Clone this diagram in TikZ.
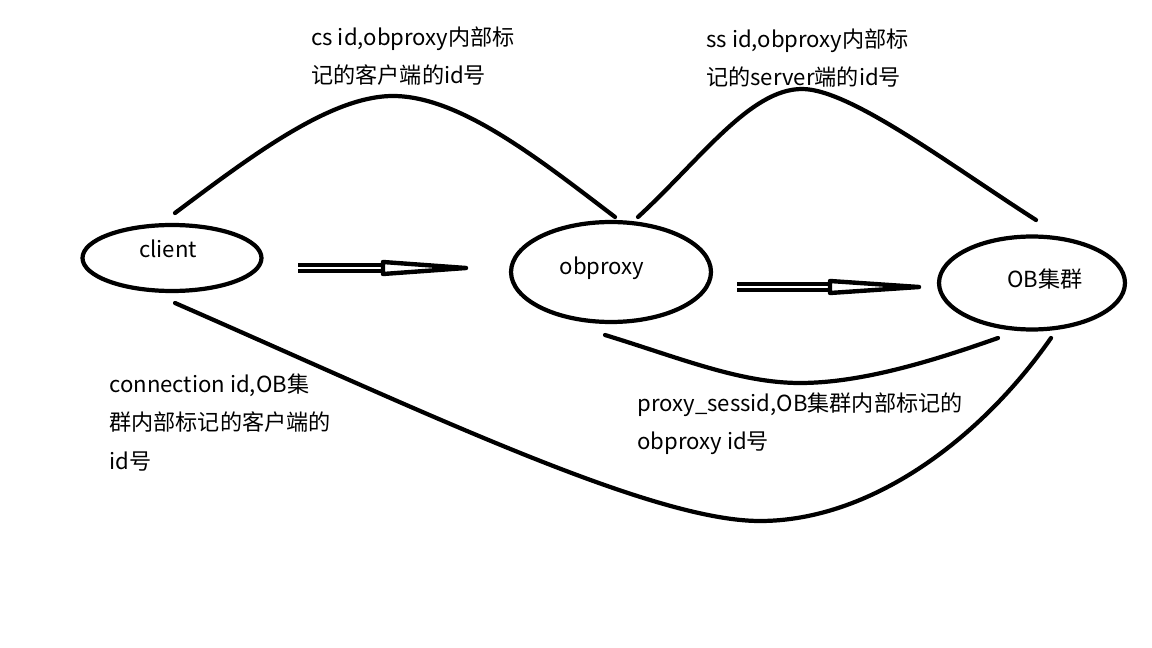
\documentclass[tikz,border=0pt]{standalone}
\usepackage{fontspec}
\setmainfont{Noto Sans CJK SC}
\usetikzlibrary{shapes.geometric,calc}

\begin{document}
\begin{tikzpicture}[x=0.02cm, y=-0.02cm,
		every node/.style={font=\fontsize{12.6pt}{22.1pt}\selectfont},
		endpoint/.style={ellipse, draw, line width=2.4pt, inner sep=0pt},
		note/.style={align=left, anchor=north west, inner sep=0pt},
		link/.style={line width=2.4pt, line cap=round},
		shaft/.style={line width=2.5pt, double=white, double distance=0.8pt},
		head/.style={line width=2.5pt, fill=white, line join=round}]
		\useasboundingbox (0,0) rectangle (1152,648);
		% the three ends
		\node[endpoint, minimum width=3.58cm, minimum height=1.32cm] (client) at (172,258){};
		\node[endpoint, minimum width=4cm, minimum height=2cm] (obproxy) at (611,272){};
		\node[endpoint, minimum width=3.72cm, minimum height=1.86cm] (cluster) at (1032,283){};
		\node (client-txt) at (168,249){client};
		\node (obproxy-txt) at (602,268){obproxy};
		\node (cluster-txt) at (1045,279){OB集群};
		% hollow arrows
		\coordinate (req-s) at (298,268);
		\coordinate (req-m) at (383,268);
		\coordinate (req-e) at (466,268);
		\coordinate (fwd-s) at (737,287);
		\coordinate (fwd-m) at (830,287);
		\coordinate (fwd-e) at (919,287);
		\draw[shaft] (req-s) -- (req-m);
		\draw[head] ($(req-m)+(0,-6)$) -- (req-e) -- ($(req-m)+(0,6)$) -- cycle;
		\draw[shaft] (fwd-s) -- (fwd-m);
		\draw[head] ($(fwd-m)+(0,-6)$) -- (fwd-e) -- ($(fwd-m)+(0,6)$) -- cycle;
		% id curves
		\coordinate (cs-a) at (175,213);
		\coordinate (cs-b) at (615,217);
		\coordinate (ss-a) at (638,217);
		\coordinate (ss-b) at (1036,220);
		\coordinate (ps-a) at (605,335);
		\coordinate (ps-b) at (998,338);
		\coordinate (cn-a) at (175,303);
		\coordinate (cn-b) at (1051,338);
		\draw[link] (cs-a) .. controls (250,157) and (330,96) .. (393,96)
			.. controls (460,96) and (540,160) .. (cs-b);
		\draw[link] (ss-a) .. controls (700,160) and (750,89) .. (802,89)
			.. controls (850,89) and (950,165) .. (ss-b);
		\draw[link] (ps-a) .. controls (680,358) and (740,383) .. (800,383)
			.. controls (860,383) and (930,362) .. (ps-b);
		\draw[link] (cn-a) .. controls (420,410) and (650,521) .. (760,521)
			.. controls (870,521) and (980,440) .. (cn-b);
		% labels
		\node[note] (cs-txt) at (311,26){cs id,obproxy内部标\\记的客户端的id号};
		\node[note] (ss-txt) at (706,28){ss id,obproxy内部标\\记的server端的id号};
		\node[note] (cn-txt) at (109,373){connection id,OB集\\群内部标记的客户端的\\id号};
		\node[note] (ps-txt) at (637,392){proxy\_sessid,OB集群内部标记的\\obproxy id号};
\end{tikzpicture}
\end{document}
